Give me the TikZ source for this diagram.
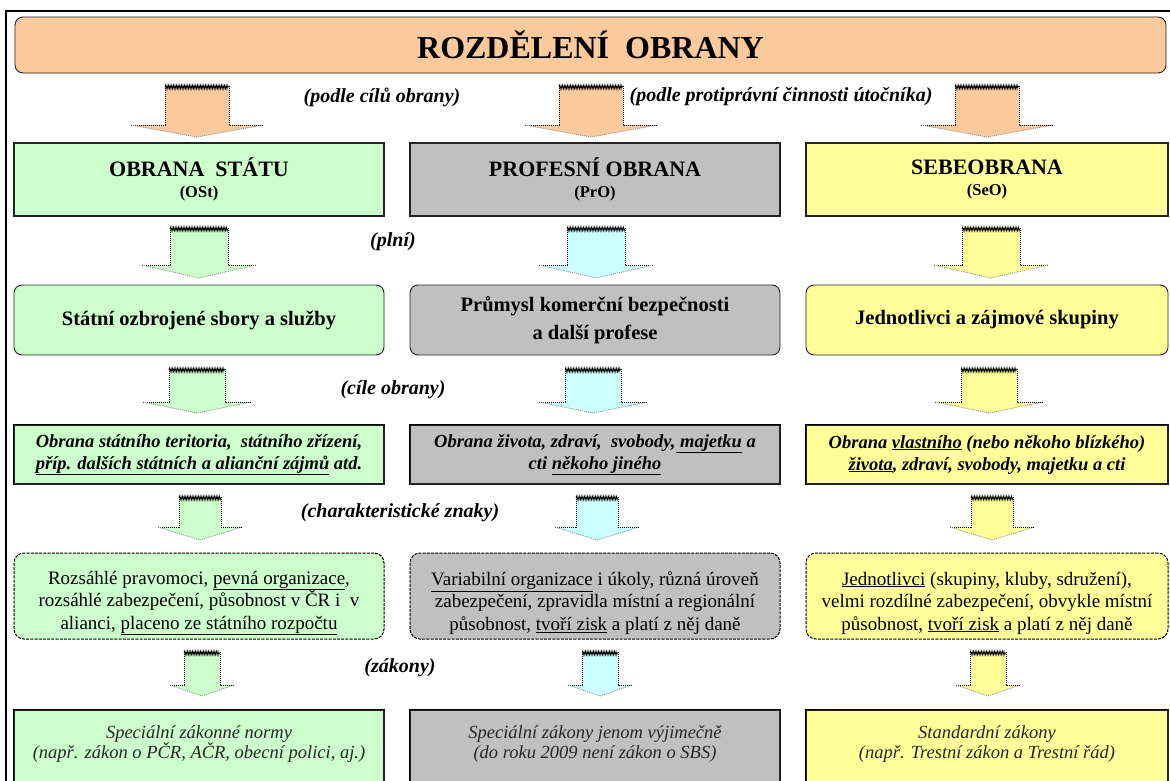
\documentclass[tikz,border=0pt]{standalone}
\usepackage{fontspec}
\setmainfont{Liberation Serif}
\usetikzlibrary{decorations.pathmorphing}
\definecolor{peach}{RGB}{250,201,156}
\definecolor{lgreen}{RGB}{204,255,204}
\definecolor{lgray}{RGB}{192,192,192}
\definecolor{lyellow}{RGB}{255,255,153}
\definecolor{lcyan}{RGB}{204,255,255}
\definecolor{edgec}{RGB}{35,35,35}
\newcommand\fs[2]{\fontsize{#1}{#2}\selectfont}
\newcommand\barrow[7]{%
  \fill[#7] (#1-#5,#2) -- (#1+#5,#2) -- (#1+#5,#3) -- (#1+#6,#3) -- (#1,#4) -- (#1-#6,#3) -- (#1-#5,#3) -- cycle;
  \draw[arrtop] (#1-#5,#2+1) -- (#1+#5,#2+1);
  \draw[arrside] (#1-#6,#3) -- (#1-#5,#3) -- (#1-#5,#2);
  \draw[arrside] (#1+#6,#3) -- (#1+#5,#3) -- (#1+#5,#2);
  \draw[arrhead] (#1-#6,#3) -- (#1,#4) -- (#1+#6,#3);
}
\begin{document}
\begin{tikzpicture}[x=1pt,y=-1pt,
  plainbox/.style={draw=edgec, line width=1.2pt, inner sep=0pt, align=center},
  roundbox/.style={plainbox, rounded corners=8pt, line width=0.9pt},
  dashbox/.style={draw=black, line width=1pt, dash pattern=on 3pt off 1.2pt, rounded corners=10pt, inner sep=0pt},
  edge3d/.style={line width=1.8pt, black},
  lbl/.style={font=\fs{20}{24}\bfseries\itshape, inner sep=0pt},
  rone/.style={font=\fs{22}{21.5}\bfseries},
  rtwo/.style={font=\fs{20.5}{28}\bfseries},
  rthree/.style={font=\fs{18.5}{22}\bfseries\itshape},
  rfour/.style={font=\fs{19}{22.5}, align=center, inner sep=0pt},
  rsix/.style={font=\fs{18.5}{20.5}\itshape, text=black!85, align=center, inner sep=0pt},
  arrtop/.style={decorate, decoration={zigzag, amplitude=2pt, segment length=1.6pt}, line width=0.6pt, black},
  arrside/.style={black, line width=0.9pt, dash pattern=on 1.2pt off 0.8pt},
  arrhead/.style={black!45, line width=0.8pt, dash pattern=on 1pt off 1pt}
]
\useasboundingbox (0,0) rectangle (1170,780);
\clip (0,0) rectangle (1170,780);
\fill[white] (0,0) rectangle (1170,780);
% outer frame
\draw[line width=2.5pt] (6,800) -- (6,11) -- (1180,11);
% title
\node[roundbox, fill=peach, minimum width=1151pt, minimum height=56pt, font=\fs{32}{36}\bfseries] (title) at (590.5,45) {ROZDĚLENÍ\ \ OBRANY};
% row 1 arrows
\barrow{197}{86}{125}{137}{32}{66}{peach}
\barrow{591}{86}{125}{137}{32}{66}{peach}
\barrow{987}{86}{125}{137}{32}{66}{peach}
\node[lbl] (l1) at (382,97) {(podle cílů obrany)};
\node[lbl] (l2) at (781,97) {(podle protiprávní činnosti útočníka)};
% row 1 boxes
\node[plainbox, fill=lgreen, minimum width=370pt, minimum height=73pt, rone] (os) at (199,179.5)
  {OBRANA\ \ STÁTU\\{\fs{16.5}{20}(OSt)}};
\node[plainbox, fill=lgray, minimum width=370pt, minimum height=73pt, rone] (pro) at (595,179.5)
  {PROFESNÍ OBRANA\\{\fs{16.5}{20}(PrO)}};
\node[plainbox, fill=lyellow, minimum width=362pt, minimum height=73pt, rone] (seo) at (987,179.5)
  {SEBEOBRANA\\{\fs{16.5}{20}(SeO)}};
% row 2 arrows
\barrow{199}{228}{265}{278}{29}{57}{lgreen}
\barrow{596}{228}{265}{278}{29}{57}{lcyan}
\barrow{991}{228}{265}{278}{29}{57}{lyellow}
\node[lbl] (l3) at (393,242) {(plní)};
% row 2 boxes
\node[roundbox, fill=lgreen, minimum width=370pt, minimum height=70pt, rtwo] (b2l) at (199,320)
  {Státní ozbrojené sbory a služby};
\node[roundbox, fill=lgray, minimum width=370pt, minimum height=70pt, rtwo] (b2m) at (595,320)
  {Průmysl komerční bezpečnosti\\a další profese};
\node[roundbox, fill=lyellow, minimum width=362pt, minimum height=70pt, rtwo] (b2r) at (987,320)
  {Jednotlivci a zájmové skupiny};
% row 3 arrows
\barrow{197}{369}{402}{413}{28}{54}{lgreen}
\barrow{593}{369}{402}{413}{28}{54}{lcyan}
\barrow{989}{369}{402}{413}{28}{54}{lyellow}
\node[lbl] (l4) at (393,390) {(cíle obrany)};
% row 3 boxes
\node[plainbox, fill=lgreen, minimum width=370pt, minimum height=59pt, rthree] (b3l) at (199,454.5)
  {Obrana státního teritoria,\ \ státního zřízení,\\\underline{příp. dalších státních a alianční zájmů} atd.};
\node[plainbox, fill=lgray, minimum width=370pt, minimum height=59pt, rthree] (b3m) at (595,454.5)
  {Obrana života, zdraví,\ \ svobody,\underline{\ majetku} a\\cti \underline{někoho jiného}};
\node[plainbox, fill=lyellow, minimum width=362pt, minimum height=59pt, rthree] (b3r) at (987,454.5)
  {Obrana \underline{vlastního} (nebo někoho blízkého)\\\underline{života}, zdraví, svobody, majetku a cti};
\draw[edge3d] (b3l.south west) |- (b3l.north east);
\draw[edge3d] (b3m.south west) |- (b3m.north east);
\draw[edge3d] (b3r.south west) |- (b3r.north east);
% row 4 arrows
\barrow{200}{497}{527}{540}{21}{42}{lgreen}
\barrow{597}{497}{527}{540}{21}{42}{lcyan}
\barrow{992}{497}{527}{540}{21}{42}{lyellow}
\node[lbl] (l5) at (400,513) {(charakteristické znaky)};
% row 4 boxes
\node[dashbox, fill=lgreen, minimum width=370pt, minimum height=86pt] (b4l) at (199,596) {};
\node[dashbox, fill=lgray, minimum width=370pt, minimum height=86pt] (b4m) at (595,596) {};
\node[dashbox, fill=lyellow, minimum width=362pt, minimum height=86pt] (b4r) at (987,596) {};
\node[rfour] (t4l) at (199,603)
  {Rozsáhlé pravomoci, \underline{pevná organizace},\\rozsáhlé zabezpečení, působnost v ČR i\ \ v\\alianci, \underline{placeno ze státního rozpočtu}};
\node[rfour] (t4m) at (595,603)
  {\underline{Variabilní organizace} i úkoly, různá úroveň\\zabezpečení, zpravidla místní a regionální\\působnost, \underline{tvoří zisk} a platí z něj daně};
\node[rfour] (t4r) at (987,603)
  {\underline{Jednotlivci} (skupiny, kluby, sdružení),\\velmi rozdílné zabezpečení, obvykle místní\\působnost, \underline{tvoří zisk} a platí z něj daně};
% row 5 arrows
\barrow{202}{652}{685}{696}{18}{32}{lgreen}
\barrow{600}{652}{685}{696}{18}{32}{lcyan}
\barrow{988}{652}{685}{696}{18}{32}{lyellow}
\node[lbl] (l6) at (400,668) {(zákony)};
% row 6 boxes
\node[plainbox, fill=lgreen, minimum width=370pt, minimum height=90pt] (b6l) at (199,755) {};
\node[plainbox, fill=lgray, minimum width=370pt, minimum height=90pt] (b6m) at (595,755) {};
\node[plainbox, fill=lyellow, minimum width=362pt, minimum height=90pt] (b6r) at (987,755) {};
\draw[edge3d] (b6l.south west) |- (b6l.north east);
\draw[edge3d] (b6m.south west) |- (b6m.north east);
\draw[edge3d] (b6r.south west) |- (b6r.north east);
\node[rsix] (t6l) at (199,744) {Speciální zákonné normy\\(např. zákon o PČR, AČR, obecní polici, aj.)};
\node[rsix] (t6m) at (595,744) {Speciální zákony jenom výjimečně\\(do roku 2009 není zákon o SBS)};
\node[rsix] (t6r) at (987,744) {Standardní zákony\\(např. Trestní zákon a Trestní řád)};
\end{tikzpicture}
\end{document}
